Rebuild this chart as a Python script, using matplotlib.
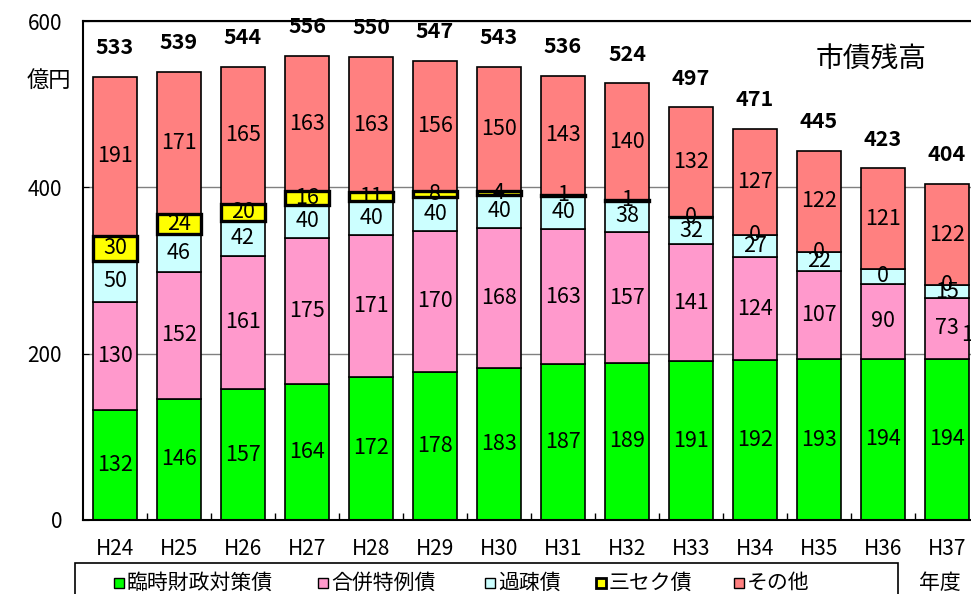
import matplotlib
matplotlib.use("Agg")
import matplotlib.pyplot as plt
import numpy as np
from matplotlib.patches import Rectangle
from matplotlib.lines import Line2D

plt.rcParams['font.family'] = ['Noto Sans CJK JP', 'DejaVu Sans']

years = ['H24', 'H25', 'H26', 'H27', 'H28', 'H29', 'H30',
         'H31', 'H32', 'H33', 'H34', 'H35', 'H36', 'H37']

# 億円
rinji = [132, 146, 157, 164, 172, 178, 183, 187, 189, 191, 192, 193, 194, 194]
gappei = [130, 152, 161, 175, 171, 170, 168, 163, 157, 141, 124, 107, 90, 73]
kaso = [50, 46, 42, 40, 40, 40, 40, 40, 38, 32, 27, 22, 18, 15]
sanseku = [30, 24, 20, 16, 11, 8, 4, 1, 1, 0, 0, 0, 0, 0]
sonota = [191, 171, 165, 163, 163, 156, 150, 143, 140, 132, 127, 122, 121, 122]
totals = [533, 539, 544, 556, 550, 547, 543, 536, 524, 497, 471, 445, 423, 404]

# 過疎債の数値を出さない年度
kaso_hidden = [12]

names = ['臨時財政対策債', '合併特例債', '過疎債', '三セク債', 'その他']
colors = ['#00ff00', '#ff99cc', '#ccffff', '#ffff00', '#ff8080']

fig = plt.figure(figsize=(9.71, 5.94), dpi=100)
ax = fig.add_axes([83 / 971, 74 / 594, 896 / 971, 499 / 594])

x = np.arange(len(years))
w = 0.69

r = np.array(rinji)
g = np.array(gappei)
k = np.array(kaso)
s = np.array(sanseku)
o = np.array(sonota)

ax.bar(x, r, w, color=colors[0], edgecolor='black', linewidth=1.2, zorder=2)
ax.bar(x, g, w, bottom=r, color=colors[1], edgecolor='black', linewidth=1.2, zorder=2)
ax.bar(x, k, w, bottom=r + g, color=colors[2], edgecolor='black', linewidth=1.2, zorder=2)
ax.bar(x, o, w, bottom=r + g + k + s, color=colors[4], edgecolor='black', linewidth=1.2, zorder=2)

# 三セク債は太枠、償還が終わった年度まで線を残す
lw = []
for i, v in enumerate(sanseku):
    if v > 0 or (i > 0 and sanseku[i - 1] > 0):
        lw.append(2.4)
    else:
        lw.append(0)
ax.bar(x, s, w, bottom=r + g + k, color=colors[3], edgecolor='black',
       linewidth=lw, zorder=3)

lab = dict(ha='center', va='center', fontsize=15.5, zorder=6)
for i in range(len(years)):
    ax.text(x[i], r[i] / 2, str(rinji[i]), **lab)
    ax.text(x[i], r[i] + g[i] / 2, str(gappei[i]), **lab)
    if i not in kaso_hidden:
        ax.text(x[i], r[i] + g[i] + k[i] / 2, str(kaso[i]), **lab)
        ys = r[i] + g[i] + k[i] + s[i] / 2
    else:
        ys = r[i] + g[i] + k[i] / 2
    ax.text(x[i], ys, str(sanseku[i]), **lab)
    ax.text(x[i], r[i] + g[i] + k[i] + s[i] + o[i] / 2, str(sonota[i]), **lab)
    top = r[i] + g[i] + k[i] + s[i] + o[i]
    ax.annotate(str(totals[i]), (x[i], top), xytext=(0, 21),
                textcoords='offset points', ha='center', va='center',
                fontsize=15.5, fontweight='bold', zorder=6)

ax.text(13.22, 222, '18', ha='left', va='center', fontsize=15.5, clip_on=False)

ax.set_xlim(-0.5, 13.5)
ax.set_ylim(0, 600)
ax.set_yticks([0, 200, 400, 600])
ax.set_xticks(x)
ax.set_xticklabels(years)
ax.set_xticks(x[:-1] + 0.5, minor=True)
ax.tick_params(axis='x', which='major', length=0, pad=13, labelsize=15)
ax.tick_params(axis='x', which='minor', direction='in', length=5, width=1)
ax.tick_params(axis='y', direction='in', length=4, pad=15, labelsize=15)
ax.yaxis.grid(True, color='#808080', linewidth=1, zorder=0)
ax.set_axisbelow(True)
for sp in ax.spines.values():
    sp.set_linewidth(1.5)
    sp.set_color('black')

ax.text(0.88, 0.922, '市債残高', transform=ax.transAxes, ha='center',
        va='center', fontsize=20)
fig.text(49 / 971, 1 - 80 / 594, '億円', ha='center', va='center', fontsize=16)

# 凡例
fig.add_artist(Rectangle((75 / 971, -0.05), (898 - 75) / 971, 0.05 + (594 - 563) / 594,
                         transform=fig.transFigure, fill=False,
                         edgecolor='black', linewidth=1.2))
mx = [119, 323, 490, 601, 739]
ly = 1 - 583 / 594
for name, c, px in zip(names, colors, mx):
    ew = 2 if name == '三セク債' else 1
    fig.add_artist(Line2D([px / 971], [ly], marker='s', markersize=7,
                          markerfacecolor=c, markeredgecolor='black',
                          markeredgewidth=ew, transform=fig.transFigure))
    fig.text((px + 8) / 971, ly, name, ha='left', va='center', fontsize=15)
fig.text(940 / 971, ly, '年度', ha='center', va='center', fontsize=15)

fig.savefig('out.png', dpi=100)
